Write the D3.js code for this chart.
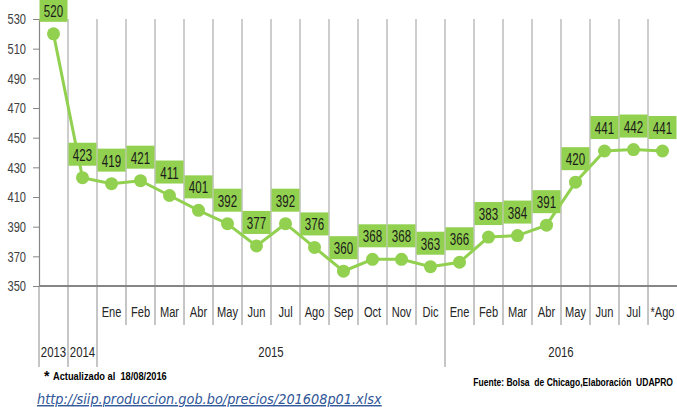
<!DOCTYPE html>
<html>
<head>
<meta charset="utf-8">
<script src="https://cdn.jsdelivr.net/npm/d3@7/dist/d3.min.js"></script>
<style>
  body { margin: 0; background: #fff; }
  svg { display: block; }
</style>
</head>
<body>
<div id="chart"></div>
<script>
// monthly price labels (2013 and 2014 are yearly averages, no month)
const periodLabels = ['', '', 'Ene', 'Feb', 'Mar', 'Abr', 'May', 'Jun', 'Jul', 'Ago', 'Sep', 'Oct', 'Nov', 'Dic',
  'Ene', 'Feb', 'Mar', 'Abr', 'May', 'Jun', 'Jul', '*Ago'];
const periodYears = ['2013', '2014', '2015', '2015', '2015', '2015', '2015', '2015', '2015', '2015', '2015', '2015', '2015', '2015',
  '2016', '2016', '2016', '2016', '2016', '2016', '2016', '2016'];
const prices = [520, 423, 419, 421, 411, 401, 392, 377, 392, 376, 360, 368, 368, 363,
  366, 383, 384, 391, 420, 441, 442, 441];
const yTicks = [350, 370, 390, 410, 430, 450, 470, 490, 510, 530];

const width = 677;
const height = 407;
const sans = '"Liberation Sans", Arial, sans-serif';
const green = '#92d050';

// no narrow font installed, so squeeze the glyphs horizontally with a transform
// f is a factor, or pass target width w instead
function squeeze(sel, f, w) {
  sel.each(function () {
    const t = d3.select(this);
    const len = this.getComputedTextLength();
    const k = w ? w / len : f;
    const tx = +t.attr('x') || 0;
    const ty = +t.attr('y') || 0;
    t.attr('x', 0).attr('y', 0).attr('transform', `translate(${tx},${ty}) scale(${k},1)`);
  });
}

const svg = d3.select('#chart').append('svg')
  .attr('width', width)
  .attr('height', height);

const idx = d3.range(prices.length);
const x = d3.scaleBand().domain(idx).range([39, 677]).padding(0);
const y = d3.scaleLinear().domain([350, 530]).range([286, 19]);
const bw = x.bandwidth();

// vertical gridlines between categories
svg.append('g')
  .selectAll('line')
  .data(idx.slice(1))
  .join('line')
  .attr('x1', d => x(d)).attr('x2', d => x(d))
  .attr('y1', y(530)).attr('y2', y(350))
  .attr('stroke', '#bcbcbc')
  .attr('stroke-width', 1.5);

// separators under the axis: short for months, long at year changes
svg.append('g')
  .selectAll('line')
  .data(idx)
  .join('line')
  .attr('x1', d => x(d)).attr('x2', d => x(d))
  .attr('y1', y(350))
  .attr('y2', d => (d === 0 || periodYears[d] !== periodYears[d - 1]) ? 367 : 325)
  .attr('stroke', '#8c8c8c')
  .attr('stroke-width', 1);

// y axis
const yAxis = svg.append('g')
  .attr('transform', `translate(${x(0)},0)`)
  .call(d3.axisLeft(y).tickValues(yTicks).tickSize(6).tickPadding(7));
yAxis.select('.domain').attr('stroke', '#868686').attr('stroke-width', 1.2);
yAxis.selectAll('.tick line').attr('stroke', '#868686');
yAxis.selectAll('.tick text')
  .attr('fill', '#404040')
  .style('font-family', sans)
  .style('font-size', '15px')
  .call(squeeze, 0.74);

// x axis baseline
svg.append('line')
  .attr('x1', x(0)).attr('x2', width)
  .attr('y1', y(350)).attr('y2', y(350))
  .attr('stroke', '#868686')
  .attr('stroke-width', 2);

// month labels
svg.append('g')
  .selectAll('text')
  .data(idx)
  .join('text')
  .attr('x', d => x(d) + bw / 2)
  .attr('y', 317)
  .attr('text-anchor', 'middle')
  .attr('fill', '#262626')
  .style('font-family', sans)
  .style('font-size', '15px')
  .text(d => periodLabels[d])
  .call(squeeze, 0.74);

// year labels, centred on the span of each year
const years = Array.from(d3.group(idx, d => periodYears[d]), ([k, v]) => ({ year: k, first: v[0], last: v[v.length - 1] }));
svg.append('g')
  .selectAll('text')
  .data(years)
  .join('text')
  .attr('x', d => (x(d.first) + x(d.last) + bw) / 2)
  .attr('y', 357)
  .attr('text-anchor', 'middle')
  .attr('fill', '#262626')
  .style('font-family', sans)
  .style('font-size', '15px')
  .text(d => d.year)
  .call(squeeze, 0.76);

// price line
const line = d3.line()
  .x((d, i) => x(i) + bw / 2)
  .y(d => y(d));

svg.append('path')
  .datum(prices)
  .attr('d', line)
  .attr('fill', 'none')
  .attr('stroke', green)
  .attr('stroke-width', 3);

svg.append('g')
  .selectAll('circle')
  .data(prices)
  .join('circle')
  .attr('cx', (d, i) => x(i) + bw / 2)
  .attr('cy', d => y(d))
  .attr('r', 6.5)
  .attr('fill', green);

// value labels in green boxes
const labels = svg.append('g')
  .selectAll('g')
  .data(prices)
  .join('g')
  .attr('transform', (d, i) => `translate(${x(i) + bw / 2},${y(d) - 12})`);

labels.append('rect')
  .attr('x', -14)
  .attr('y', -23)
  .attr('width', 28)
  .attr('height', 23)
  .attr('fill', green);

labels.append('text')
  .attr('y', -5)
  .attr('text-anchor', 'middle')
  .attr('fill', '#1a1a1a')
  .style('font-family', sans)
  .style('font-size', '17px')
  .text(d => d)
  .call(squeeze, 0.68);

// footer notes
svg.append('text')
  .attr('x', 44).attr('y', 381)
  .attr('fill', '#000')
  .style('font-family', sans)
  .style('font-size', '14px')
  .style('font-weight', 'bold')
  .text('*');

svg.append('text')
  .attr('x', 53).attr('y', 380)
  .attr('fill', '#000')
  .style('font-family', sans)
  .style('font-size', '11px')
  .style('font-weight', 'bold')
  .style('white-space', 'pre')
  .text('Actualizado al  18/08/2016')
  .call(squeeze, 0, 114);

svg.append('text')
  .attr('x', 673).attr('y', 386)
  .attr('text-anchor', 'end')
  .attr('fill', '#000')
  .style('font-family', sans)
  .style('font-size', '11px')
  .style('font-weight', 'bold')
  .style('white-space', 'pre')
  .text('Fuente: Bolsa  de Chicago,Elaboración  UDAPRO')
  .call(squeeze, 0, 200);

svg.append('text')
  .attr('x', 37).attr('y', 404)
  .attr('fill', '#2f5597')
  .style('font-family', '"DejaVu Sans", sans-serif')
  .style('font-size', '14px')
  .style('font-style', 'italic')
  .style('text-decoration', 'underline')
  .text('http://siip.produccion.gob.bo/precios/201608p01.xlsx')
  .call(squeeze, 0, 345);
</script>
</body>
</html>
